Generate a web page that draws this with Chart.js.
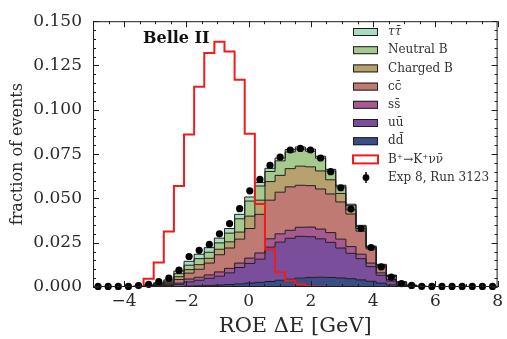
<!DOCTYPE html>
<html>
<head>
<meta charset="utf-8">
<script src="https://cdn.jsdelivr.net/npm/chart.js@4.4.0/dist/chart.umd.min.js"></script>
<style>
  html, body { margin: 0; padding: 0; background: #fff; }
</style>
</head>
<body>
<canvas id="roeChart" width="507" height="339"></canvas>
<script>
// histogram bin edges (ROE dE, GeV), 40 bins
const binEdges = [-5, -4.675, -4.35, -4.025, -3.7, -3.375, -3.05, -2.725, -2.4, -2.075,
  -1.75, -1.425, -1.1, -0.775, -0.45, -0.125, 0.2, 0.525, 0.85, 1.175,
  1.5, 1.825, 2.15, 2.475, 2.8, 3.125, 3.45, 3.775, 4.1, 4.425,
  4.75, 5.075, 5.4, 5.725, 6.05, 6.375, 6.7, 7.025, 7.35, 7.675, 8];

const xTicks = [-4, -2, 0, 2, 4, 6, 8];
const yTicks = [0, 0.025, 0.05, 0.075, 0.1, 0.125, 0.15];

// background components, stacked from the bottom (dd) to the top (tautau)
const ddbar = [0, 0, 0, 0, 0, 0.0001, 0.0001, 0.0002, 0.0003, 0.0005,
  0.0007, 0.0009, 0.0011, 0.0014, 0.0018, 0.0022, 0.0026, 0.0031, 0.0038, 0.0044,
  0.0050, 0.0054, 0.0055, 0.0054, 0.0051, 0.0047, 0.0040, 0.0032, 0.0022, 0.0012,
  0.0006, 0.0002, 0.0001, 0, 0, 0, 0, 0, 0, 0];
const uubar = [0, 0, 0, 0, 0.0001, 0.0001, 0.0004, 0.0007, 0.0012, 0.0024,
  0.0031, 0.0040, 0.0050, 0.0066, 0.0092, 0.0111, 0.0131, 0.0194, 0.0215, 0.0231,
  0.0236, 0.0230, 0.0217, 0.0198, 0.0169, 0.0143, 0.0120, 0.0083, 0.0044, 0.0022,
  0.0007, 0.0002, 0, 0, 0, 0, 0, 0, 0, 0];
const ssbar = [0, 0, 0, 0, 0, 0.0001, 0.0002, 0.0004, 0.0007, 0.0016,
  0.0017, 0.0019, 0.0024, 0.0025, 0.0025, 0.0030, 0.0035, 0.0047, 0.0047, 0.0045,
  0.0051, 0.0054, 0.0055, 0.0055, 0.0050, 0.0038, 0.0025, 0.0020, 0.0014, 0.0008,
  0.0003, 0.0001, 0.0001, 0.0001, 0, 0, 0, 0, 0, 0];
const ccbar = [0, 0, 0, 0, 0.0001, 0.0002, 0.0004, 0.0008, 0.0020, 0.0033,
  0.0045, 0.0067, 0.0097, 0.0115, 0.0135, 0.0167, 0.0218, 0.0218, 0.0235, 0.0245,
  0.0237, 0.0234, 0.0226, 0.0218, 0.0210, 0.0184, 0.0130, 0.0080, 0.0032, 0.0018,
  0.0009, 0.0003, 0.0001, 0, 0, 0, 0, 0, 0, 0];
const chargedB = [0, 0, 0, 0, 0.0001, 0.0002, 0.0004, 0.0006, 0.0016, 0.0020,
  0.0026, 0.0027, 0.0031, 0.0035, 0.0040, 0.0070, 0.0080, 0.0105, 0.0095, 0.0103,
  0.0108, 0.0106, 0.0102, 0.0080, 0.0048, 0.0024, 0.0015, 0.0007, 0.0008, 0.0003,
  0.0002, 0.0001, 0, 0, 0, 0, 0, 0, 0, 0];
const neutralB = [0, 0, 0, 0, 0.0001, 0.0002, 0.0004, 0.0006, 0.0017, 0.0025,
  0.0034, 0.0034, 0.0036, 0.0049, 0.0075, 0.0085, 0.0080, 0.0057, 0.0082, 0.0094,
  0.0096, 0.0088, 0.0072, 0.0049, 0.0037, 0.0023, 0.0011, 0.0004, 0.0004, 0.0002,
  0.0001, 0.0001, 0.0001, 0.0001, 0, 0, 0, 0, 0, 0];
const tautau = [0, 0, 0, 0, 0.0001, 0.0003, 0.0005, 0.0007, 0.0015, 0.0022,
  0.0025, 0.0026, 0.0027, 0.0026, 0.0025, 0.0023, 0.0020, 0.0018, 0.0016, 0.0014,
  0.0012, 0.0012, 0.0011, 0.0010, 0.0009, 0.0008, 0.0007, 0.0005, 0.0004, 0.0002,
  0.0001, 0, 0, 0, 0, 0, 0, 0, 0, 0];

// signal B+ -> K+ nu nubar
const signal = [0, 0, 0, 0, 0, 0.0046, 0.0138, 0.0313, 0.0570, 0.0861,
  0.1130, 0.1320, 0.1384, 0.1329, 0.1170, 0.0865, 0.0469, 0.0212, 0.0083, 0.0037,
  0.0015, 0.0004, 0.0001, 0, 0, 0, 0, 0, 0, 0,
  0, 0, 0, 0, 0, 0, 0, 0, 0, 0];

// Exp 8, Run 3123
const runData = [0.0003, 0.0003, 0.0003, 0.0003, 0.0008, 0.0015, 0.0030, 0.0050, 0.0095, 0.0172,
  0.0207, 0.0240, 0.0300, 0.0358, 0.0442, 0.0543, 0.0607, 0.0687, 0.0733, 0.0773,
  0.0782, 0.0773, 0.0728, 0.0651, 0.0560, 0.0440, 0.0330, 0.0223, 0.0114, 0.0056,
  0.0019, 0.0009, 0.0004, 0.0003, 0.0003, 0.0003, 0.0003, 0.0003, 0.0003, 0.0003];

const FONT = 'DejaVu Serif';
const INK = '#1e1e1e';

// one point per bin edge, last value repeated so the step closes at the right edge
function steps(values) {
  const pts = values.map((v, i) => ({ x: binEdges[i], y: v }));
  pts.push({ x: binEdges[values.length], y: values[values.length - 1] });
  return pts;
}

const components = [
  { label: 'd\u0064\u0304', data: ddbar, color: '#3b4d86' },
  { label: 'u\u0075\u0304', data: uubar, color: '#7a4e9a' },
  { label: 's\u0073\u0304', data: ssbar, color: '#a65a8f' },
  { label: 'c\u0063\u0304', data: ccbar, color: '#bf7a73' },
  { label: 'Charged B', data: chargedB, color: '#b7a26f' },
  { label: 'Neutral B', data: neutralB, color: '#a6c98d' },
  { label: '\u03C4\u03C4\u0304', data: tautau, color: '#a9dcc2', italic: true }
];

const datasets = components.map((c, i) => ({
  type: 'line',
  label: c.label,
  data: steps(c.data),
  stepped: true,
  fill: i === 0 ? 'origin' : '-1',
  backgroundColor: c.color,
  borderColor: INK,
  borderWidth: 1,
  pointRadius: 0,
  order: 2,
  italic: c.italic || false
}));

datasets.push({
  type: 'line',
  label: 'B\u207A\u2192K\u207A\u03BD\u03BD\u0304',
  data: steps(signal),
  stepped: true,
  fill: false,
  stack: 'signal',
  borderColor: '#ee1d1d',
  backgroundColor: '#ffffff',
  borderWidth: 2,
  pointRadius: 0,
  order: 1
});

datasets.push({
  type: 'scatter',
  label: 'Exp 8, Run 3123',
  data: runData.map((v, i) => ({ x: (binEdges[i] + binEdges[i + 1]) / 2, y: v })),
  stack: 'data',
  backgroundColor: '#000',
  borderWidth: 0,
  pointRadius: 3.6,
  clip: false,
  order: 0
});

// frame with inward major/minor ticks on all four sides
const framePlugin = {
  id: 'frame',
  afterDatasetsDraw(chart) {
    const { ctx, chartArea: a, scales: { x, y } } = chart;
    ctx.save();
    ctx.strokeStyle = INK;
    ctx.lineWidth = 1;
    ctx.strokeRect(a.left + 0.5, a.top + 0.5, a.right - a.left - 1, a.bottom - a.top - 1);
    ctx.beginPath();
    for (let v = -5; v <= 8.001; v += 0.5) {
      const px = Math.round(x.getPixelForValue(v)) + 0.5;
      const len = xTicks.includes(v) ? 6 : 3;
      ctx.moveTo(px, a.bottom); ctx.lineTo(px, a.bottom - len);
      ctx.moveTo(px, a.top); ctx.lineTo(px, a.top + len);
    }
    for (let k = 0; k <= 30; k++) {
      const v = k * 0.005;
      const py = Math.round(y.getPixelForValue(v)) + 0.5;
      const len = k % 5 === 0 ? 6 : 3;
      ctx.moveTo(a.left, py); ctx.lineTo(a.left + len, py);
      ctx.moveTo(a.right, py); ctx.lineTo(a.right - len, py);
    }
    ctx.stroke();
    ctx.restore();
  }
};

// legend inside the plot + experiment label
const legendPlugin = {
  id: 'insideLegend',
  afterDraw(chart) {
    const { ctx } = chart;
    const ds = chart.data.datasets;
    const items = ds.slice(0, components.length).reverse().concat(ds.slice(components.length));
    const boxX = 353, boxW = 25, boxH = 8, textX = 388;
    let rowY = 32;
    ctx.save();
    ctx.textBaseline = 'middle';
    ctx.textAlign = 'left';
    items.forEach(d => {
      if (d.type === 'scatter') {
        ctx.strokeStyle = '#000';
        ctx.lineWidth = 1.5;
        ctx.beginPath();
        ctx.moveTo(366, rowY - 5.5); ctx.lineTo(366, rowY + 5.5);
        ctx.stroke();
        ctx.fillStyle = '#000';
        ctx.beginPath();
        ctx.arc(366, rowY, 3.4, 0, Math.PI * 2);
        ctx.fill();
      } else if (d.fill === false) {
        ctx.fillStyle = '#fff';
        ctx.fillRect(boxX, rowY - boxH / 2, boxW, boxH);
        ctx.strokeStyle = d.borderColor;
        ctx.lineWidth = 2;
        ctx.strokeRect(boxX, rowY - boxH / 2, boxW, boxH);
      } else {
        ctx.fillStyle = d.backgroundColor;
        ctx.fillRect(boxX, rowY - boxH / 2, boxW, boxH);
        ctx.strokeStyle = INK;
        ctx.lineWidth = 1;
        ctx.strokeRect(boxX + 0.5, rowY - boxH / 2 + 0.5, boxW - 1, boxH - 1);
      }
      ctx.fillStyle = '#333';
      ctx.font = (d.italic ? 'italic ' : '') + '12px "' + FONT + '"';
      ctx.fillText(d.label, textX, rowY);
      rowY += 18.2;
    });
    ctx.fillStyle = '#111';
    ctx.font = 'bold 16px "' + FONT + '"';
    ctx.textBaseline = 'alphabetic';
    ctx.fillText('Belle II', 143, 43);
    ctx.restore();
  }
};

const ctx = document.getElementById('roeChart').getContext('2d');
const chart = new Chart(ctx, {
  type: 'line',
  data: { datasets },
  options: {
    responsive: false,
    animation: false,
    devicePixelRatio: 1,
    layout: { padding: { top: 15, right: 9, left: 0, bottom: 0 } },
    plugins: {
      legend: { display: false },
      tooltip: { enabled: false },
      filler: { drawTime: 'beforeDatasetsDraw' }
    },
    scales: {
      x: {
        type: 'linear',
        min: -5,
        max: 8,
        grid: { display: false, drawTicks: false },
        border: { display: false },
        afterBuildTicks: s => { s.ticks = xTicks.map(v => ({ value: v })); },
        afterFit: s => { s.height = 52; },
        ticks: {
          font: { family: FONT, size: 17 },
          color: '#2a2a2a',
          padding: 4,
          maxRotation: 0,
          callback: v => String(v).replace('-', '\u2212')
        },
        title: {
          display: true,
          text: 'ROE \u0394E [GeV]',
          font: { family: FONT, size: 21 },
          color: '#2a2a2a',
          padding: { top: 0, bottom: 0 }
        }
      },
      y: {
        stacked: true,
        min: 0,
        max: 0.15,
        grid: { display: false, drawTicks: false },
        border: { display: false },
        afterBuildTicks: s => { s.ticks = yTicks.map(v => ({ value: v })); },
        afterFit: s => { s.width = 93; },
        ticks: {
          font: { family: FONT, size: 17 },
          color: '#2a2a2a',
          padding: 11,
          callback: v => v.toFixed(3)
        },
        title: {
          display: true,
          text: 'fraction of events',
          font: { family: FONT, size: 16 },
          color: '#2a2a2a',
          padding: { top: 8, bottom: 0 }
        }
      }
    }
  },
  plugins: [framePlugin, legendPlugin]
});
</script>
</body>
</html>
